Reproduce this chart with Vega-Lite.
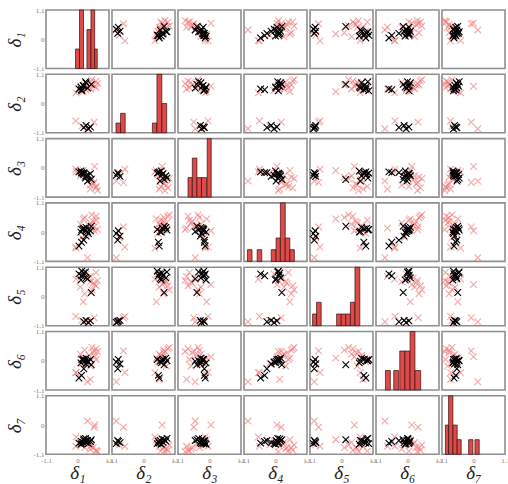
{
"$schema": "https://vega.github.io/schema/vega-lite/v6.json",
"padding": {"left": 5, "top": 5, "right": 0, "bottom": 0},
"datasets": {
"pts": [
{"g":"r","d1":0.55,"d2":0.70,"d3":-0.60,"d4":0.40,"d5":0.50,"d6":0.30,"d7":-0.85},
{"g":"r","d1":0.65,"d2":0.85,"d3":-0.75,"d4":0.60,"d5":0.40,"d6":0.45,"d7":-0.95},
{"g":"r","d1":0.40,"d2":0.60,"d3":-0.45,"d4":0.25,"d5":0.70,"d6":0.20,"d7":-0.70},
{"g":"r","d1":0.20,"d2":0.45,"d3":-0.10,"d4":0.50,"d5":-0.20,"d6":0.10,"d7":-0.55},
{"g":"r","d1":0.70,"d2":0.75,"d3":-0.85,"d4":0.10,"d5":0.60,"d6":0.35,"d7":-1.00},
{"g":"r","d1":-0.06,"d2":-0.65,"d3":-0.05,"d4":-0.56,"d5":-0.75,"d6":-0.44,"d7":-0.80},
{"g":"r","d1":0.58,"d2":-0.70,"d3":-0.55,"d4":0.20,"d5":-0.80,"d6":0.37,"d7":-0.08},
{"g":"r","d1":0.35,"d2":-0.95,"d3":-0.50,"d4":-0.96,"d5":-0.95,"d6":-0.79,"d7":0.15},
{"g":"r","d1":0.10,"d2":0.55,"d3":-0.30,"d4":0.30,"d5":0.35,"d6":0.25,"d7":-0.65},
{"g":"r","d1":0.60,"d2":0.65,"d3":0.05,"d4":0.05,"d5":0.45,"d6":0.15,"d7":0.00},
{"g":"r","d1":0.45,"d2":0.80,"d3":-0.65,"d4":0.35,"d5":0.55,"d6":-0.20,"d7":-0.90},
{"g":"r","d1":0.30,"d2":0.50,"d3":-0.25,"d4":-0.05,"d5":0.85,"d6":-0.05,"d7":-0.60},
{"g":"r","d1":0.50,"d2":0.90,"d3":-0.40,"d4":0.65,"d5":0.25,"d6":0.50,"d7":-0.75},
{"g":"r","d1":-0.05,"d2":0.40,"d3":-0.15,"d4":-0.60,"d5":0.65,"d6":-0.45,"d7":-0.45},
{"g":"r","d1":0.65,"d2":0.60,"d3":-0.70,"d4":0.45,"d5":0.90,"d6":0.05,"d7":-0.98},
{"g":"r","d1":0.25,"d2":0.70,"d3":-0.35,"d4":0.55,"d5":0.10,"d6":0.40,"d7":-0.85},
{"g":"r","d1":0.15,"d2":-0.85,"d3":-0.20,"d4":-0.20,"d5":-0.90,"d6":-0.10,"d7":-0.75},
{"g":"r","d1":0.45,"d2":0.55,"d3":-0.80,"d4":0.15,"d5":0.75,"d6":-0.70,"d7":-0.80},
{"g":"b","d1":0.45,"d2":-0.88,"d3":-0.22,"d4":0.05,"d5":-0.92,"d6":0.05,"d7":-0.62},
{"g":"b","d1":0.38,"d2":-0.95,"d3":-0.28,"d4":-0.05,"d5":-0.98,"d6":-0.05,"d7":-0.70},
{"g":"b","d1":0.30,"d2":-0.82,"d3":-0.32,"d4":-0.15,"d5":-0.90,"d6":-0.12,"d7":-0.66},
{"g":"b","d1":0.22,"d2":-0.90,"d3":-0.18,"d4":-0.30,"d5":-0.95,"d6":-0.30,"d7":-0.58},
{"g":"b","d1":0.05,"d2":0.55,"d3":-0.15,"d4":-0.52,"d5":0.85,"d6":-0.65,"d7":-0.68},
{"g":"b","d1":0.14,"d2":0.52,"d3":-0.18,"d4":-0.38,"d5":0.78,"d6":-0.55,"d7":-0.62},
{"g":"b","d1":0.48,"d2":0.72,"d3":-0.44,"d4":0.22,"d5":0.15,"d6":-0.15,"d7":-0.55},
{"g":"b","d1":0.15,"d2":0.48,"d3":-0.20,"d4":0.10,"d5":0.95,"d6":0.05,"d7":-0.70},
{"g":"b","d1":0.22,"d2":0.65,"d3":-0.25,"d4":0.15,"d5":0.88,"d6":0.02,"d7":-0.52},
{"g":"b","d1":0.30,"d2":0.78,"d3":-0.30,"d4":0.18,"d5":0.70,"d6":0.10,"d7":-0.60},
{"g":"b","d1":0.12,"d2":0.62,"d3":-0.12,"d4":0.00,"d5":0.62,"d6":-0.08,"d7":-0.72},
{"g":"b","d1":0.28,"d2":0.82,"d3":-0.38,"d4":0.08,"d5":0.92,"d6":0.00,"d7":-0.50},
{"g":"b","d1":0.20,"d2":0.68,"d3":-0.22,"d4":0.12,"d5":0.80,"d6":0.06,"d7":-0.65},
{"g":"b","d1":0.35,"d2":0.58,"d3":-0.50,"d4":0.02,"d5":0.66,"d6":-0.02,"d7":-0.58}
],
"hist": [
{"v":"d1","x0":-0.07,"x1":0.07,"n":1},{"v":"d1","x0":0.07,"x1":0.21,"n":3},{"v":"d1","x0":0.33,"x1":0.47,"n":2},{"v":"d1","x0":0.47,"x1":0.6,"n":3},{"v":"d1","x0":0.6,"x1":0.69,"n":1},
{"v":"d2","x0":-0.96,"x1":-0.8,"n":1},{"v":"d2","x0":-0.8,"x1":-0.64,"n":2},{"v":"d2","x0":0.31,"x1":0.47,"n":1},{"v":"d2","x0":0.47,"x1":0.64,"n":6},{"v":"d2","x0":0.64,"x1":0.81,"n":3},
{"v":"d3","x0":-0.75,"x1":-0.6,"n":1},{"v":"d3","x0":-0.6,"x1":-0.44,"n":2},{"v":"d3","x0":-0.44,"x1":-0.28,"n":1},{"v":"d3","x0":-0.28,"x1":-0.1,"n":1},{"v":"d3","x0":-0.08,"x1":0.06,"n":3},
{"v":"d4","x0":-0.98,"x1":-0.82,"n":1},{"v":"d4","x0":-0.64,"x1":-0.48,"n":1},{"v":"d4","x0":-0.15,"x1":0.02,"n":1},{"v":"d4","x0":0.02,"x1":0.17,"n":2},{"v":"d4","x0":0.17,"x1":0.34,"n":5},{"v":"d4","x0":0.34,"x1":0.5,"n":2},{"v":"d4","x0":0.5,"x1":0.66,"n":1},
{"v":"d5","x0":-1.01,"x1":-0.87,"n":1},{"v":"d5","x0":-0.87,"x1":-0.71,"n":2},{"v":"d5","x0":-0.17,"x1":-0.01,"n":1},{"v":"d5","x0":-0.01,"x1":0.15,"n":1},{"v":"d5","x0":0.15,"x1":0.31,"n":1},{"v":"d5","x0":0.31,"x1":0.47,"n":2},{"v":"d5","x0":0.47,"x1":0.64,"n":5},
{"v":"d6","x0":-0.77,"x1":-0.6,"n":1},{"v":"d6","x0":-0.48,"x1":-0.31,"n":1},{"v":"d6","x0":-0.27,"x1":-0.09,"n":2},{"v":"d6","x0":-0.09,"x1":0.09,"n":2},{"v":"d6","x0":0.09,"x1":0.26,"n":3},{"v":"d6","x0":0.26,"x1":0.46,"n":1},
{"v":"d7","x0":-0.98,"x1":-0.87,"n":2},{"v":"d7","x0":-0.87,"x1":-0.72,"n":4},{"v":"d7","x0":-0.72,"x1":-0.57,"n":2},{"v":"d7","x0":-0.57,"x1":-0.43,"n":1},{"v":"d7","x0":-0.17,"x1":-0.02,"n":1},{"v":"d7","x0":0.05,"x1":0.2,"n":1}
]
},
"data": {"name": "pts"},
"columns": 7,
"spacing": {"row": 5.3, "column": 3},
"bounds": "flush",
"resolve": {"scale": {"x": "independent", "y": "independent"}},
"concat": [
{"data":{"name":"hist"},"transform":[{"filter":"datum.v=='d1'"}],"mark":{"type":"rect","fill":"#dc4a4a","stroke":"#3b0d0d","strokeWidth":0.7},"encoding":{"x":{"field":"x0","type":"quantitative","scale":{"domain":[-1.1,1.1],"nice":false,"zero":false},"axis":null},"x2":{"field":"x1"},"y":{"field":"n","type":"quantitative","scale":{"domain":[0,3],"nice":false},"axis":{"values":[0,1.5,3],"labelExpr":"datum.value>2?'1.1':datum.value<1?'-1.1':'0'","title":"δ₁"}},"y2":{"datum":0}}},
{"mark":"point","encoding":{"x":{"field":"d2","type":"quantitative","scale":{"domain":[-1.1,1.1],"nice":false,"zero":false},"axis":null},"y":{"field":"d1","type":"quantitative","scale":{"domain":[-1.1,1.1],"nice":false,"zero":false},"axis":null},"color":{"field":"g","type":"nominal","scale":{"domain":["r","b"],"range":["#f07a7a","#000000"]},"legend":null},"opacity":{"field":"g","type":"nominal","scale":{"domain":["r","b"],"range":[0.65,1]},"legend":null}}},
{"mark":"point","encoding":{"x":{"field":"d3","type":"quantitative","scale":{"domain":[-1.1,1.1],"nice":false,"zero":false},"axis":null},"y":{"field":"d1","type":"quantitative","scale":{"domain":[-1.1,1.1],"nice":false,"zero":false},"axis":null},"color":{"field":"g","type":"nominal","scale":{"domain":["r","b"],"range":["#f07a7a","#000000"]},"legend":null},"opacity":{"field":"g","type":"nominal","scale":{"domain":["r","b"],"range":[0.65,1]},"legend":null}}},
{"mark":"point","encoding":{"x":{"field":"d4","type":"quantitative","scale":{"domain":[-1.1,1.1],"nice":false,"zero":false},"axis":null},"y":{"field":"d1","type":"quantitative","scale":{"domain":[-1.1,1.1],"nice":false,"zero":false},"axis":null},"color":{"field":"g","type":"nominal","scale":{"domain":["r","b"],"range":["#f07a7a","#000000"]},"legend":null},"opacity":{"field":"g","type":"nominal","scale":{"domain":["r","b"],"range":[0.65,1]},"legend":null}}},
{"mark":"point","encoding":{"x":{"field":"d5","type":"quantitative","scale":{"domain":[-1.1,1.1],"nice":false,"zero":false},"axis":null},"y":{"field":"d1","type":"quantitative","scale":{"domain":[-1.1,1.1],"nice":false,"zero":false},"axis":null},"color":{"field":"g","type":"nominal","scale":{"domain":["r","b"],"range":["#f07a7a","#000000"]},"legend":null},"opacity":{"field":"g","type":"nominal","scale":{"domain":["r","b"],"range":[0.65,1]},"legend":null}}},
{"mark":"point","encoding":{"x":{"field":"d6","type":"quantitative","scale":{"domain":[-1.1,1.1],"nice":false,"zero":false},"axis":null},"y":{"field":"d1","type":"quantitative","scale":{"domain":[-1.1,1.1],"nice":false,"zero":false},"axis":null},"color":{"field":"g","type":"nominal","scale":{"domain":["r","b"],"range":["#f07a7a","#000000"]},"legend":null},"opacity":{"field":"g","type":"nominal","scale":{"domain":["r","b"],"range":[0.65,1]},"legend":null}}},
{"mark":"point","encoding":{"x":{"field":"d7","type":"quantitative","scale":{"domain":[-1.1,1.1],"nice":false,"zero":false},"axis":null},"y":{"field":"d1","type":"quantitative","scale":{"domain":[-1.1,1.1],"nice":false,"zero":false},"axis":null},"color":{"field":"g","type":"nominal","scale":{"domain":["r","b"],"range":["#f07a7a","#000000"]},"legend":null},"opacity":{"field":"g","type":"nominal","scale":{"domain":["r","b"],"range":[0.65,1]},"legend":null}}},
{"mark":"point","encoding":{"x":{"field":"d1","type":"quantitative","scale":{"domain":[-1.1,1.1],"nice":false,"zero":false},"axis":null},"y":{"field":"d2","type":"quantitative","scale":{"domain":[-1.1,1.1],"nice":false,"zero":false},"axis":{"values":[-1.1,0,1.1],"labelExpr":"datum.value>0.5?'1.1':datum.value<-0.5?'-1.1':'0'","title":"δ₂"}},"color":{"field":"g","type":"nominal","scale":{"domain":["r","b"],"range":["#f07a7a","#000000"]},"legend":null},"opacity":{"field":"g","type":"nominal","scale":{"domain":["r","b"],"range":[0.65,1]},"legend":null}}},
{"data":{"name":"hist"},"transform":[{"filter":"datum.v=='d2'"}],"mark":{"type":"rect","fill":"#dc4a4a","stroke":"#3b0d0d","strokeWidth":0.7},"encoding":{"x":{"field":"x0","type":"quantitative","scale":{"domain":[-1.1,1.1],"nice":false,"zero":false},"axis":null},"x2":{"field":"x1"},"y":{"field":"n","type":"quantitative","scale":{"domain":[0,6],"nice":false},"axis":null},"y2":{"datum":0}}},
{"mark":"point","encoding":{"x":{"field":"d3","type":"quantitative","scale":{"domain":[-1.1,1.1],"nice":false,"zero":false},"axis":null},"y":{"field":"d2","type":"quantitative","scale":{"domain":[-1.1,1.1],"nice":false,"zero":false},"axis":null},"color":{"field":"g","type":"nominal","scale":{"domain":["r","b"],"range":["#f07a7a","#000000"]},"legend":null},"opacity":{"field":"g","type":"nominal","scale":{"domain":["r","b"],"range":[0.65,1]},"legend":null}}},
{"mark":"point","encoding":{"x":{"field":"d4","type":"quantitative","scale":{"domain":[-1.1,1.1],"nice":false,"zero":false},"axis":null},"y":{"field":"d2","type":"quantitative","scale":{"domain":[-1.1,1.1],"nice":false,"zero":false},"axis":null},"color":{"field":"g","type":"nominal","scale":{"domain":["r","b"],"range":["#f07a7a","#000000"]},"legend":null},"opacity":{"field":"g","type":"nominal","scale":{"domain":["r","b"],"range":[0.65,1]},"legend":null}}},
{"mark":"point","encoding":{"x":{"field":"d5","type":"quantitative","scale":{"domain":[-1.1,1.1],"nice":false,"zero":false},"axis":null},"y":{"field":"d2","type":"quantitative","scale":{"domain":[-1.1,1.1],"nice":false,"zero":false},"axis":null},"color":{"field":"g","type":"nominal","scale":{"domain":["r","b"],"range":["#f07a7a","#000000"]},"legend":null},"opacity":{"field":"g","type":"nominal","scale":{"domain":["r","b"],"range":[0.65,1]},"legend":null}}},
{"mark":"point","encoding":{"x":{"field":"d6","type":"quantitative","scale":{"domain":[-1.1,1.1],"nice":false,"zero":false},"axis":null},"y":{"field":"d2","type":"quantitative","scale":{"domain":[-1.1,1.1],"nice":false,"zero":false},"axis":null},"color":{"field":"g","type":"nominal","scale":{"domain":["r","b"],"range":["#f07a7a","#000000"]},"legend":null},"opacity":{"field":"g","type":"nominal","scale":{"domain":["r","b"],"range":[0.65,1]},"legend":null}}},
{"mark":"point","encoding":{"x":{"field":"d7","type":"quantitative","scale":{"domain":[-1.1,1.1],"nice":false,"zero":false},"axis":null},"y":{"field":"d2","type":"quantitative","scale":{"domain":[-1.1,1.1],"nice":false,"zero":false},"axis":null},"color":{"field":"g","type":"nominal","scale":{"domain":["r","b"],"range":["#f07a7a","#000000"]},"legend":null},"opacity":{"field":"g","type":"nominal","scale":{"domain":["r","b"],"range":[0.65,1]},"legend":null}}},
{"mark":"point","encoding":{"x":{"field":"d1","type":"quantitative","scale":{"domain":[-1.1,1.1],"nice":false,"zero":false},"axis":null},"y":{"field":"d3","type":"quantitative","scale":{"domain":[-1.1,1.1],"nice":false,"zero":false},"axis":{"values":[-1.1,0,1.1],"labelExpr":"datum.value>0.5?'1.1':datum.value<-0.5?'-1.1':'0'","title":"δ₃"}},"color":{"field":"g","type":"nominal","scale":{"domain":["r","b"],"range":["#f07a7a","#000000"]},"legend":null},"opacity":{"field":"g","type":"nominal","scale":{"domain":["r","b"],"range":[0.65,1]},"legend":null}}},
{"mark":"point","encoding":{"x":{"field":"d2","type":"quantitative","scale":{"domain":[-1.1,1.1],"nice":false,"zero":false},"axis":null},"y":{"field":"d3","type":"quantitative","scale":{"domain":[-1.1,1.1],"nice":false,"zero":false},"axis":null},"color":{"field":"g","type":"nominal","scale":{"domain":["r","b"],"range":["#f07a7a","#000000"]},"legend":null},"opacity":{"field":"g","type":"nominal","scale":{"domain":["r","b"],"range":[0.65,1]},"legend":null}}},
{"data":{"name":"hist"},"transform":[{"filter":"datum.v=='d3'"}],"mark":{"type":"rect","fill":"#dc4a4a","stroke":"#3b0d0d","strokeWidth":0.7},"encoding":{"x":{"field":"x0","type":"quantitative","scale":{"domain":[-1.1,1.1],"nice":false,"zero":false},"axis":null},"x2":{"field":"x1"},"y":{"field":"n","type":"quantitative","scale":{"domain":[0,3],"nice":false},"axis":null},"y2":{"datum":0}}},
{"mark":"point","encoding":{"x":{"field":"d4","type":"quantitative","scale":{"domain":[-1.1,1.1],"nice":false,"zero":false},"axis":null},"y":{"field":"d3","type":"quantitative","scale":{"domain":[-1.1,1.1],"nice":false,"zero":false},"axis":null},"color":{"field":"g","type":"nominal","scale":{"domain":["r","b"],"range":["#f07a7a","#000000"]},"legend":null},"opacity":{"field":"g","type":"nominal","scale":{"domain":["r","b"],"range":[0.65,1]},"legend":null}}},
{"mark":"point","encoding":{"x":{"field":"d5","type":"quantitative","scale":{"domain":[-1.1,1.1],"nice":false,"zero":false},"axis":null},"y":{"field":"d3","type":"quantitative","scale":{"domain":[-1.1,1.1],"nice":false,"zero":false},"axis":null},"color":{"field":"g","type":"nominal","scale":{"domain":["r","b"],"range":["#f07a7a","#000000"]},"legend":null},"opacity":{"field":"g","type":"nominal","scale":{"domain":["r","b"],"range":[0.65,1]},"legend":null}}},
{"mark":"point","encoding":{"x":{"field":"d6","type":"quantitative","scale":{"domain":[-1.1,1.1],"nice":false,"zero":false},"axis":null},"y":{"field":"d3","type":"quantitative","scale":{"domain":[-1.1,1.1],"nice":false,"zero":false},"axis":null},"color":{"field":"g","type":"nominal","scale":{"domain":["r","b"],"range":["#f07a7a","#000000"]},"legend":null},"opacity":{"field":"g","type":"nominal","scale":{"domain":["r","b"],"range":[0.65,1]},"legend":null}}},
{"mark":"point","encoding":{"x":{"field":"d7","type":"quantitative","scale":{"domain":[-1.1,1.1],"nice":false,"zero":false},"axis":null},"y":{"field":"d3","type":"quantitative","scale":{"domain":[-1.1,1.1],"nice":false,"zero":false},"axis":null},"color":{"field":"g","type":"nominal","scale":{"domain":["r","b"],"range":["#f07a7a","#000000"]},"legend":null},"opacity":{"field":"g","type":"nominal","scale":{"domain":["r","b"],"range":[0.65,1]},"legend":null}}},
{"mark":"point","encoding":{"x":{"field":"d1","type":"quantitative","scale":{"domain":[-1.1,1.1],"nice":false,"zero":false},"axis":null},"y":{"field":"d4","type":"quantitative","scale":{"domain":[-1.1,1.1],"nice":false,"zero":false},"axis":{"values":[-1.1,0,1.1],"labelExpr":"datum.value>0.5?'1.1':datum.value<-0.5?'-1.1':'0'","title":"δ₄"}},"color":{"field":"g","type":"nominal","scale":{"domain":["r","b"],"range":["#f07a7a","#000000"]},"legend":null},"opacity":{"field":"g","type":"nominal","scale":{"domain":["r","b"],"range":[0.65,1]},"legend":null}}},
{"mark":"point","encoding":{"x":{"field":"d2","type":"quantitative","scale":{"domain":[-1.1,1.1],"nice":false,"zero":false},"axis":null},"y":{"field":"d4","type":"quantitative","scale":{"domain":[-1.1,1.1],"nice":false,"zero":false},"axis":null},"color":{"field":"g","type":"nominal","scale":{"domain":["r","b"],"range":["#f07a7a","#000000"]},"legend":null},"opacity":{"field":"g","type":"nominal","scale":{"domain":["r","b"],"range":[0.65,1]},"legend":null}}},
{"mark":"point","encoding":{"x":{"field":"d3","type":"quantitative","scale":{"domain":[-1.1,1.1],"nice":false,"zero":false},"axis":null},"y":{"field":"d4","type":"quantitative","scale":{"domain":[-1.1,1.1],"nice":false,"zero":false},"axis":null},"color":{"field":"g","type":"nominal","scale":{"domain":["r","b"],"range":["#f07a7a","#000000"]},"legend":null},"opacity":{"field":"g","type":"nominal","scale":{"domain":["r","b"],"range":[0.65,1]},"legend":null}}},
{"data":{"name":"hist"},"transform":[{"filter":"datum.v=='d4'"}],"mark":{"type":"rect","fill":"#dc4a4a","stroke":"#3b0d0d","strokeWidth":0.7},"encoding":{"x":{"field":"x0","type":"quantitative","scale":{"domain":[-1.1,1.1],"nice":false,"zero":false},"axis":null},"x2":{"field":"x1"},"y":{"field":"n","type":"quantitative","scale":{"domain":[0,5],"nice":false},"axis":null},"y2":{"datum":0}}},
{"mark":"point","encoding":{"x":{"field":"d5","type":"quantitative","scale":{"domain":[-1.1,1.1],"nice":false,"zero":false},"axis":null},"y":{"field":"d4","type":"quantitative","scale":{"domain":[-1.1,1.1],"nice":false,"zero":false},"axis":null},"color":{"field":"g","type":"nominal","scale":{"domain":["r","b"],"range":["#f07a7a","#000000"]},"legend":null},"opacity":{"field":"g","type":"nominal","scale":{"domain":["r","b"],"range":[0.65,1]},"legend":null}}},
{"mark":"point","encoding":{"x":{"field":"d6","type":"quantitative","scale":{"domain":[-1.1,1.1],"nice":false,"zero":false},"axis":null},"y":{"field":"d4","type":"quantitative","scale":{"domain":[-1.1,1.1],"nice":false,"zero":false},"axis":null},"color":{"field":"g","type":"nominal","scale":{"domain":["r","b"],"range":["#f07a7a","#000000"]},"legend":null},"opacity":{"field":"g","type":"nominal","scale":{"domain":["r","b"],"range":[0.65,1]},"legend":null}}},
{"mark":"point","encoding":{"x":{"field":"d7","type":"quantitative","scale":{"domain":[-1.1,1.1],"nice":false,"zero":false},"axis":null},"y":{"field":"d4","type":"quantitative","scale":{"domain":[-1.1,1.1],"nice":false,"zero":false},"axis":null},"color":{"field":"g","type":"nominal","scale":{"domain":["r","b"],"range":["#f07a7a","#000000"]},"legend":null},"opacity":{"field":"g","type":"nominal","scale":{"domain":["r","b"],"range":[0.65,1]},"legend":null}}},
{"mark":"point","encoding":{"x":{"field":"d1","type":"quantitative","scale":{"domain":[-1.1,1.1],"nice":false,"zero":false},"axis":null},"y":{"field":"d5","type":"quantitative","scale":{"domain":[-1.1,1.1],"nice":false,"zero":false},"axis":{"values":[-1.1,0,1.1],"labelExpr":"datum.value>0.5?'1.1':datum.value<-0.5?'-1.1':'0'","title":"δ₅"}},"color":{"field":"g","type":"nominal","scale":{"domain":["r","b"],"range":["#f07a7a","#000000"]},"legend":null},"opacity":{"field":"g","type":"nominal","scale":{"domain":["r","b"],"range":[0.65,1]},"legend":null}}},
{"mark":"point","encoding":{"x":{"field":"d2","type":"quantitative","scale":{"domain":[-1.1,1.1],"nice":false,"zero":false},"axis":null},"y":{"field":"d5","type":"quantitative","scale":{"domain":[-1.1,1.1],"nice":false,"zero":false},"axis":null},"color":{"field":"g","type":"nominal","scale":{"domain":["r","b"],"range":["#f07a7a","#000000"]},"legend":null},"opacity":{"field":"g","type":"nominal","scale":{"domain":["r","b"],"range":[0.65,1]},"legend":null}}},
{"mark":"point","encoding":{"x":{"field":"d3","type":"quantitative","scale":{"domain":[-1.1,1.1],"nice":false,"zero":false},"axis":null},"y":{"field":"d5","type":"quantitative","scale":{"domain":[-1.1,1.1],"nice":false,"zero":false},"axis":null},"color":{"field":"g","type":"nominal","scale":{"domain":["r","b"],"range":["#f07a7a","#000000"]},"legend":null},"opacity":{"field":"g","type":"nominal","scale":{"domain":["r","b"],"range":[0.65,1]},"legend":null}}},
{"mark":"point","encoding":{"x":{"field":"d4","type":"quantitative","scale":{"domain":[-1.1,1.1],"nice":false,"zero":false},"axis":null},"y":{"field":"d5","type":"quantitative","scale":{"domain":[-1.1,1.1],"nice":false,"zero":false},"axis":null},"color":{"field":"g","type":"nominal","scale":{"domain":["r","b"],"range":["#f07a7a","#000000"]},"legend":null},"opacity":{"field":"g","type":"nominal","scale":{"domain":["r","b"],"range":[0.65,1]},"legend":null}}},
{"data":{"name":"hist"},"transform":[{"filter":"datum.v=='d5'"}],"mark":{"type":"rect","fill":"#dc4a4a","stroke":"#3b0d0d","strokeWidth":0.7},"encoding":{"x":{"field":"x0","type":"quantitative","scale":{"domain":[-1.1,1.1],"nice":false,"zero":false},"axis":null},"x2":{"field":"x1"},"y":{"field":"n","type":"quantitative","scale":{"domain":[0,5],"nice":false},"axis":null},"y2":{"datum":0}}},
{"mark":"point","encoding":{"x":{"field":"d6","type":"quantitative","scale":{"domain":[-1.1,1.1],"nice":false,"zero":false},"axis":null},"y":{"field":"d5","type":"quantitative","scale":{"domain":[-1.1,1.1],"nice":false,"zero":false},"axis":null},"color":{"field":"g","type":"nominal","scale":{"domain":["r","b"],"range":["#f07a7a","#000000"]},"legend":null},"opacity":{"field":"g","type":"nominal","scale":{"domain":["r","b"],"range":[0.65,1]},"legend":null}}},
{"mark":"point","encoding":{"x":{"field":"d7","type":"quantitative","scale":{"domain":[-1.1,1.1],"nice":false,"zero":false},"axis":null},"y":{"field":"d5","type":"quantitative","scale":{"domain":[-1.1,1.1],"nice":false,"zero":false},"axis":null},"color":{"field":"g","type":"nominal","scale":{"domain":["r","b"],"range":["#f07a7a","#000000"]},"legend":null},"opacity":{"field":"g","type":"nominal","scale":{"domain":["r","b"],"range":[0.65,1]},"legend":null}}},
{"mark":"point","encoding":{"x":{"field":"d1","type":"quantitative","scale":{"domain":[-1.1,1.1],"nice":false,"zero":false},"axis":null},"y":{"field":"d6","type":"quantitative","scale":{"domain":[-1.1,1.1],"nice":false,"zero":false},"axis":{"values":[-1.1,0,1.1],"labelExpr":"datum.value>0.5?'1.1':datum.value<-0.5?'-1.1':'0'","title":"δ₆"}},"color":{"field":"g","type":"nominal","scale":{"domain":["r","b"],"range":["#f07a7a","#000000"]},"legend":null},"opacity":{"field":"g","type":"nominal","scale":{"domain":["r","b"],"range":[0.65,1]},"legend":null}}},
{"mark":"point","encoding":{"x":{"field":"d2","type":"quantitative","scale":{"domain":[-1.1,1.1],"nice":false,"zero":false},"axis":null},"y":{"field":"d6","type":"quantitative","scale":{"domain":[-1.1,1.1],"nice":false,"zero":false},"axis":null},"color":{"field":"g","type":"nominal","scale":{"domain":["r","b"],"range":["#f07a7a","#000000"]},"legend":null},"opacity":{"field":"g","type":"nominal","scale":{"domain":["r","b"],"range":[0.65,1]},"legend":null}}},
{"mark":"point","encoding":{"x":{"field":"d3","type":"quantitative","scale":{"domain":[-1.1,1.1],"nice":false,"zero":false},"axis":null},"y":{"field":"d6","type":"quantitative","scale":{"domain":[-1.1,1.1],"nice":false,"zero":false},"axis":null},"color":{"field":"g","type":"nominal","scale":{"domain":["r","b"],"range":["#f07a7a","#000000"]},"legend":null},"opacity":{"field":"g","type":"nominal","scale":{"domain":["r","b"],"range":[0.65,1]},"legend":null}}},
{"mark":"point","encoding":{"x":{"field":"d4","type":"quantitative","scale":{"domain":[-1.1,1.1],"nice":false,"zero":false},"axis":null},"y":{"field":"d6","type":"quantitative","scale":{"domain":[-1.1,1.1],"nice":false,"zero":false},"axis":null},"color":{"field":"g","type":"nominal","scale":{"domain":["r","b"],"range":["#f07a7a","#000000"]},"legend":null},"opacity":{"field":"g","type":"nominal","scale":{"domain":["r","b"],"range":[0.65,1]},"legend":null}}},
{"mark":"point","encoding":{"x":{"field":"d5","type":"quantitative","scale":{"domain":[-1.1,1.1],"nice":false,"zero":false},"axis":null},"y":{"field":"d6","type":"quantitative","scale":{"domain":[-1.1,1.1],"nice":false,"zero":false},"axis":null},"color":{"field":"g","type":"nominal","scale":{"domain":["r","b"],"range":["#f07a7a","#000000"]},"legend":null},"opacity":{"field":"g","type":"nominal","scale":{"domain":["r","b"],"range":[0.65,1]},"legend":null}}},
{"data":{"name":"hist"},"transform":[{"filter":"datum.v=='d6'"}],"mark":{"type":"rect","fill":"#dc4a4a","stroke":"#3b0d0d","strokeWidth":0.7},"encoding":{"x":{"field":"x0","type":"quantitative","scale":{"domain":[-1.1,1.1],"nice":false,"zero":false},"axis":null},"x2":{"field":"x1"},"y":{"field":"n","type":"quantitative","scale":{"domain":[0,3],"nice":false},"axis":null},"y2":{"datum":0}}},
{"mark":"point","encoding":{"x":{"field":"d7","type":"quantitative","scale":{"domain":[-1.1,1.1],"nice":false,"zero":false},"axis":null},"y":{"field":"d6","type":"quantitative","scale":{"domain":[-1.1,1.1],"nice":false,"zero":false},"axis":null},"color":{"field":"g","type":"nominal","scale":{"domain":["r","b"],"range":["#f07a7a","#000000"]},"legend":null},"opacity":{"field":"g","type":"nominal","scale":{"domain":["r","b"],"range":[0.65,1]},"legend":null}}},
{"mark":"point","encoding":{"x":{"field":"d1","type":"quantitative","scale":{"domain":[-1.1,1.1],"nice":false,"zero":false},"axis":{"values":[-1.1,0,1.1],"labelExpr":"datum.value>0.5?'1.1':datum.value<-0.5?'-1.1':'0'","title":"δ₁"}},"y":{"field":"d7","type":"quantitative","scale":{"domain":[-1.1,1.1],"nice":false,"zero":false},"axis":{"values":[-1.1,0,1.1],"labelExpr":"datum.value>0.5?'1.1':datum.value<-0.5?'-1.1':'0'","title":"δ₇"}},"color":{"field":"g","type":"nominal","scale":{"domain":["r","b"],"range":["#f07a7a","#000000"]},"legend":null},"opacity":{"field":"g","type":"nominal","scale":{"domain":["r","b"],"range":[0.65,1]},"legend":null}}},
{"mark":"point","encoding":{"x":{"field":"d2","type":"quantitative","scale":{"domain":[-1.1,1.1],"nice":false,"zero":false},"axis":{"values":[-1.1,0,1.1],"labelExpr":"datum.value>0.5?'1.1':datum.value<-0.5?'-1.1':'0'","title":"δ₂"}},"y":{"field":"d7","type":"quantitative","scale":{"domain":[-1.1,1.1],"nice":false,"zero":false},"axis":null},"color":{"field":"g","type":"nominal","scale":{"domain":["r","b"],"range":["#f07a7a","#000000"]},"legend":null},"opacity":{"field":"g","type":"nominal","scale":{"domain":["r","b"],"range":[0.65,1]},"legend":null}}},
{"mark":"point","encoding":{"x":{"field":"d3","type":"quantitative","scale":{"domain":[-1.1,1.1],"nice":false,"zero":false},"axis":{"values":[-1.1,0,1.1],"labelExpr":"datum.value>0.5?'1.1':datum.value<-0.5?'-1.1':'0'","title":"δ₃"}},"y":{"field":"d7","type":"quantitative","scale":{"domain":[-1.1,1.1],"nice":false,"zero":false},"axis":null},"color":{"field":"g","type":"nominal","scale":{"domain":["r","b"],"range":["#f07a7a","#000000"]},"legend":null},"opacity":{"field":"g","type":"nominal","scale":{"domain":["r","b"],"range":[0.65,1]},"legend":null}}},
{"mark":"point","encoding":{"x":{"field":"d4","type":"quantitative","scale":{"domain":[-1.1,1.1],"nice":false,"zero":false},"axis":{"values":[-1.1,0,1.1],"labelExpr":"datum.value>0.5?'1.1':datum.value<-0.5?'-1.1':'0'","title":"δ₄"}},"y":{"field":"d7","type":"quantitative","scale":{"domain":[-1.1,1.1],"nice":false,"zero":false},"axis":null},"color":{"field":"g","type":"nominal","scale":{"domain":["r","b"],"range":["#f07a7a","#000000"]},"legend":null},"opacity":{"field":"g","type":"nominal","scale":{"domain":["r","b"],"range":[0.65,1]},"legend":null}}},
{"mark":"point","encoding":{"x":{"field":"d5","type":"quantitative","scale":{"domain":[-1.1,1.1],"nice":false,"zero":false},"axis":{"values":[-1.1,0,1.1],"labelExpr":"datum.value>0.5?'1.1':datum.value<-0.5?'-1.1':'0'","title":"δ₅"}},"y":{"field":"d7","type":"quantitative","scale":{"domain":[-1.1,1.1],"nice":false,"zero":false},"axis":null},"color":{"field":"g","type":"nominal","scale":{"domain":["r","b"],"range":["#f07a7a","#000000"]},"legend":null},"opacity":{"field":"g","type":"nominal","scale":{"domain":["r","b"],"range":[0.65,1]},"legend":null}}},
{"mark":"point","encoding":{"x":{"field":"d6","type":"quantitative","scale":{"domain":[-1.1,1.1],"nice":false,"zero":false},"axis":{"values":[-1.1,0,1.1],"labelExpr":"datum.value>0.5?'1.1':datum.value<-0.5?'-1.1':'0'","title":"δ₆"}},"y":{"field":"d7","type":"quantitative","scale":{"domain":[-1.1,1.1],"nice":false,"zero":false},"axis":null},"color":{"field":"g","type":"nominal","scale":{"domain":["r","b"],"range":["#f07a7a","#000000"]},"legend":null},"opacity":{"field":"g","type":"nominal","scale":{"domain":["r","b"],"range":[0.65,1]},"legend":null}}},
{"data":{"name":"hist"},"transform":[{"filter":"datum.v=='d7'"}],"mark":{"type":"rect","fill":"#dc4a4a","stroke":"#3b0d0d","strokeWidth":0.7},"encoding":{"x":{"field":"x0","type":"quantitative","scale":{"domain":[-1.1,1.1],"nice":false,"zero":false},"axis":{"values":[-1.1,0,1.1],"labelExpr":"datum.value>0.5?'1.1':datum.value<-0.5?'-1.1':'0'","title":"δ₇"}},"x2":{"field":"x1"},"y":{"field":"n","type":"quantitative","scale":{"domain":[0,4],"nice":false},"axis":null},"y2":{"datum":0}}}
],
"config": {
"view": {"stroke": "#8f8f8f", "strokeWidth": 1.6, "continuousWidth": 63, "continuousHeight": 58.5},
"point": {"shape": "M-1,-1L1,1M-1,1L1,-1", "size": 44, "strokeWidth": 1.1, "filled": false},
"axis": {"labelFont": "Liberation Serif", "labelFontSize": 7, "labelColor": "#808080", "ticks": false, "domain": false, "grid": false, "titleFont": "Liberation Serif", "titleFontStyle": "italic", "titleFontSize": 19, "titleFontWeight": "normal", "titleColor": "#222222", "labelFlush": false, "labelOverlap": false, "labelBound": false},
"axisY": {"titlePadding": 8, "labelPadding": 2},
"axisX": {"titlePadding": 0, "labelPadding": 2}
}
}
